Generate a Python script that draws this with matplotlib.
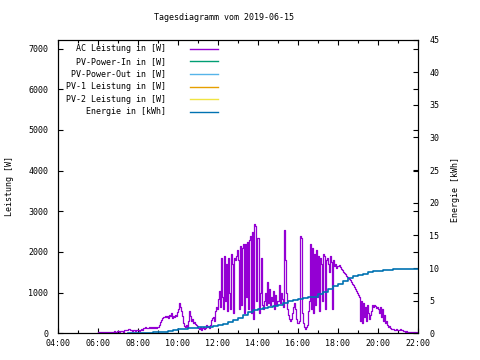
#!/usr/bin/env python3
import matplotlib
matplotlib.use("Agg")
import matplotlib.pyplot as plt
import matplotlib.dates as mdates
from matplotlib.lines import Line2D
import numpy as np
import pandas as pd

TITLE = "Tagesdiagramm vom 2019-06-15"
DAY = "2019-06-15"

# AC power in W, one value every 3 minutes starting 06:00 (one row per hour)
ac_power = [
    30, 20, 40, 30, 20, 30, 40, 30, 20, 40, 30, 30, 20, 40, 30, 40, 50, 40, 30, 50,
    50, 40, 60, 50, 60, 40, 70, 80, 90, 80, 100, 110, 90, 80, 60, 70, 90, 60, 80, 70,
    70, 60, 80, 110, 90, 140, 130, 150, 140, 120, 140, 150, 130, 150, 140, 160, 130, 150, 140, 150,
    150, 200, 270, 320, 380, 410, 390, 420, 400, 430, 380, 450, 420, 500, 380, 430, 400, 450, 420, 520,
    600, 740, 650, 550, 420, 250, 180, 150, 200, 160, 300, 550, 420, 300, 350, 250, 280, 220, 200, 180,
    120, 100, 150, 90, 120, 160, 110, 130, 200, 150, 180, 140, 200, 320, 380, 400, 300, 550, 650, 600,
    850, 1050, 650, 1850, 900, 600, 1900, 800, 1700, 550, 1850, 1000, 600, 1950, 1700, 500, 1850, 1800, 1900, 2050,
    1800, 600, 2150, 700, 2100, 2200, 500, 2200, 900, 2250, 600, 2300, 2400, 500, 2500, 350, 2700, 2650, 800, 2350,
    2350, 500, 1000, 1850, 700, 600, 800, 1000, 700, 1250, 750, 1100, 700, 900, 800, 1050, 600, 950, 700, 800,
    800, 1200, 750, 1000, 850, 650, 2550, 1800, 1000, 600, 450, 350, 300, 350, 500, 650, 750, 600, 350, 250,
    250, 300, 2400, 2350, 500, 250, 150, 100, 150, 200, 550, 800, 2200, 600, 2100, 500, 1950, 700, 2050, 900,
    1900, 550, 1850, 1700, 800, 1950, 1900, 600, 1800, 1850, 1700, 1500, 1900, 1750, 600, 1800, 1650, 1700, 1600, 1650,
    1650, 1680, 1620, 1580, 1550, 1500, 1480, 1450, 1400, 1380, 1350, 1330, 1300, 1250, 1220, 1180, 1150, 1100, 1050, 1000,
    950, 900, 300, 800, 250, 750, 400, 650, 300, 700, 500, 350, 450, 550, 700, 650, 700, 680, 620, 650,
    600, 500, 650, 400, 600, 300, 450, 250, 300, 200, 150, 180, 120, 100, 110, 100, 90, 80, 100, 90,
    90, 80, 100, 90, 80, 60, 50, 40, 50, 40, 30, 40, 30, 20, 30, 20, 30, 20, 10, 20,
    20,
]

# daily energy in kWh, one value every 15 minutes starting 07:30
energy = [
    0.02, 0.05,
    0.08, 0.10, 0.12, 0.15,
    0.20, 0.25, 0.35, 0.45,
    0.60, 0.70, 0.75, 0.80,
    0.90, 0.95, 1.00, 1.05,
    1.20, 1.50, 1.80, 2.10,
    2.40, 2.80, 3.20, 3.50,
    3.75, 3.90, 4.10, 4.25,
    4.40, 4.65, 4.90, 5.10,
    5.25, 5.40, 5.50, 5.60,
    5.95, 6.35, 6.80, 7.20,
    7.60, 8.00, 8.40, 8.70,
    8.95, 9.15, 9.35, 9.50,
    9.60, 9.70, 9.75, 9.80,
    9.82, 9.84, 9.85, 9.86,
    9.86,
]

SERIES = [
    ("AC Leistung in [W]", "#9400d3"),
    ("PV-Power-In in [W]", "#009e73"),
    ("PV-Power-Out in [W]", "#56b4e9"),
    ("PV-1 Leistung in [W]", "#e69f00"),
    ("PV-2 Leistung in [W]", "#f0e442"),
    ("Energie in [kWh]", "#0072b2"),
]

Y_TICKS = [0, 1000, 2000, 3000, 4000, 5000, 6000, 7000]
Y2_TICKS = [0, 5, 10, 15, 20, 25, 30, 35, 40, 45]

FONT = "DejaVu Sans Mono"
FS = 6


def main():
    plt.rcParams["font.family"] = FONT
    plt.rcParams["font.size"] = FS

    power_times = pd.date_range(f"{DAY} 06:00", periods=len(ac_power), freq="3min")
    energy_times = pd.date_range(f"{DAY} 07:30", periods=len(energy), freq="15min")

    fig = plt.figure(figsize=(4.8, 3.6), dpi=100)
    W, H = 480, 360
    left, right, top, bottom = 58, 418, 39.5, 333.3
    ax = fig.add_axes([left / W, 1 - bottom / H, (right - left) / W, (bottom - top) / H])
    ax2 = ax.twinx()

    ax.plot(power_times, ac_power, color=SERIES[0][1], lw=0.9, drawstyle="steps-post")
    ax2.plot(energy_times, energy, color=SERIES[5][1], lw=1.2, drawstyle="steps-post")

    ax.set_xlim(pd.Timestamp(f"{DAY} 04:00"), pd.Timestamp(f"{DAY} 22:00"))
    ax.set_ylim(0, 7225)
    ax2.set_ylim(0, 45)

    ax.xaxis.set_major_locator(mdates.HourLocator(byhour=range(0, 24, 2)))
    ax.xaxis.set_minor_locator(mdates.HourLocator())
    ax.xaxis.set_major_formatter(mdates.DateFormatter("%H:%M"))
    ax.set_yticks(Y_TICKS)
    ax2.set_yticks(Y2_TICKS)

    ax.tick_params(axis="x", which="major", direction="in", length=3.5, width=0.8,
                   top=True, pad=4, labelsize=FS)
    ax.tick_params(axis="x", which="minor", direction="in", length=2, width=0.8, top=True)
    ax.tick_params(axis="y", direction="in", length=3.5, width=0.8, right=True,
                   labelright=False, pad=7, labelsize=FS)
    ax2.tick_params(axis="y", direction="in", length=3.5, width=0.8, pad=8, labelsize=FS)

    for a in (ax, ax2):
        for s in a.spines.values():
            s.set_linewidth(0.8)
            s.set_color("black")

    fig.text(224 / W, 1 - 17.5 / H, TITLE, ha="center", va="center", fontsize=FS)
    fig.text(10 / W, 1 - 186 / H, "Leistung [W]", rotation=90, ha="center", va="center", fontsize=FS)
    fig.text(455 / W, 1 - 190 / H, "Energie [kWh]", rotation=90, ha="center", va="center", fontsize=FS)

    # gnuplot style key: right aligned labels, line sample after the text
    for i, (label, color) in enumerate(SERIES):
        y = 1 - (48.5 + i * 12.7) / H
        fig.text(166 / W, y, label, ha="right", va="center", fontsize=FS)
        fig.add_artist(Line2D([190 / W, 218 / W], [y, y], color=color, lw=1.0,
                              transform=fig.transFigure))

    fig.savefig("out.png", dpi=100)


if __name__ == "__main__":
    main()
